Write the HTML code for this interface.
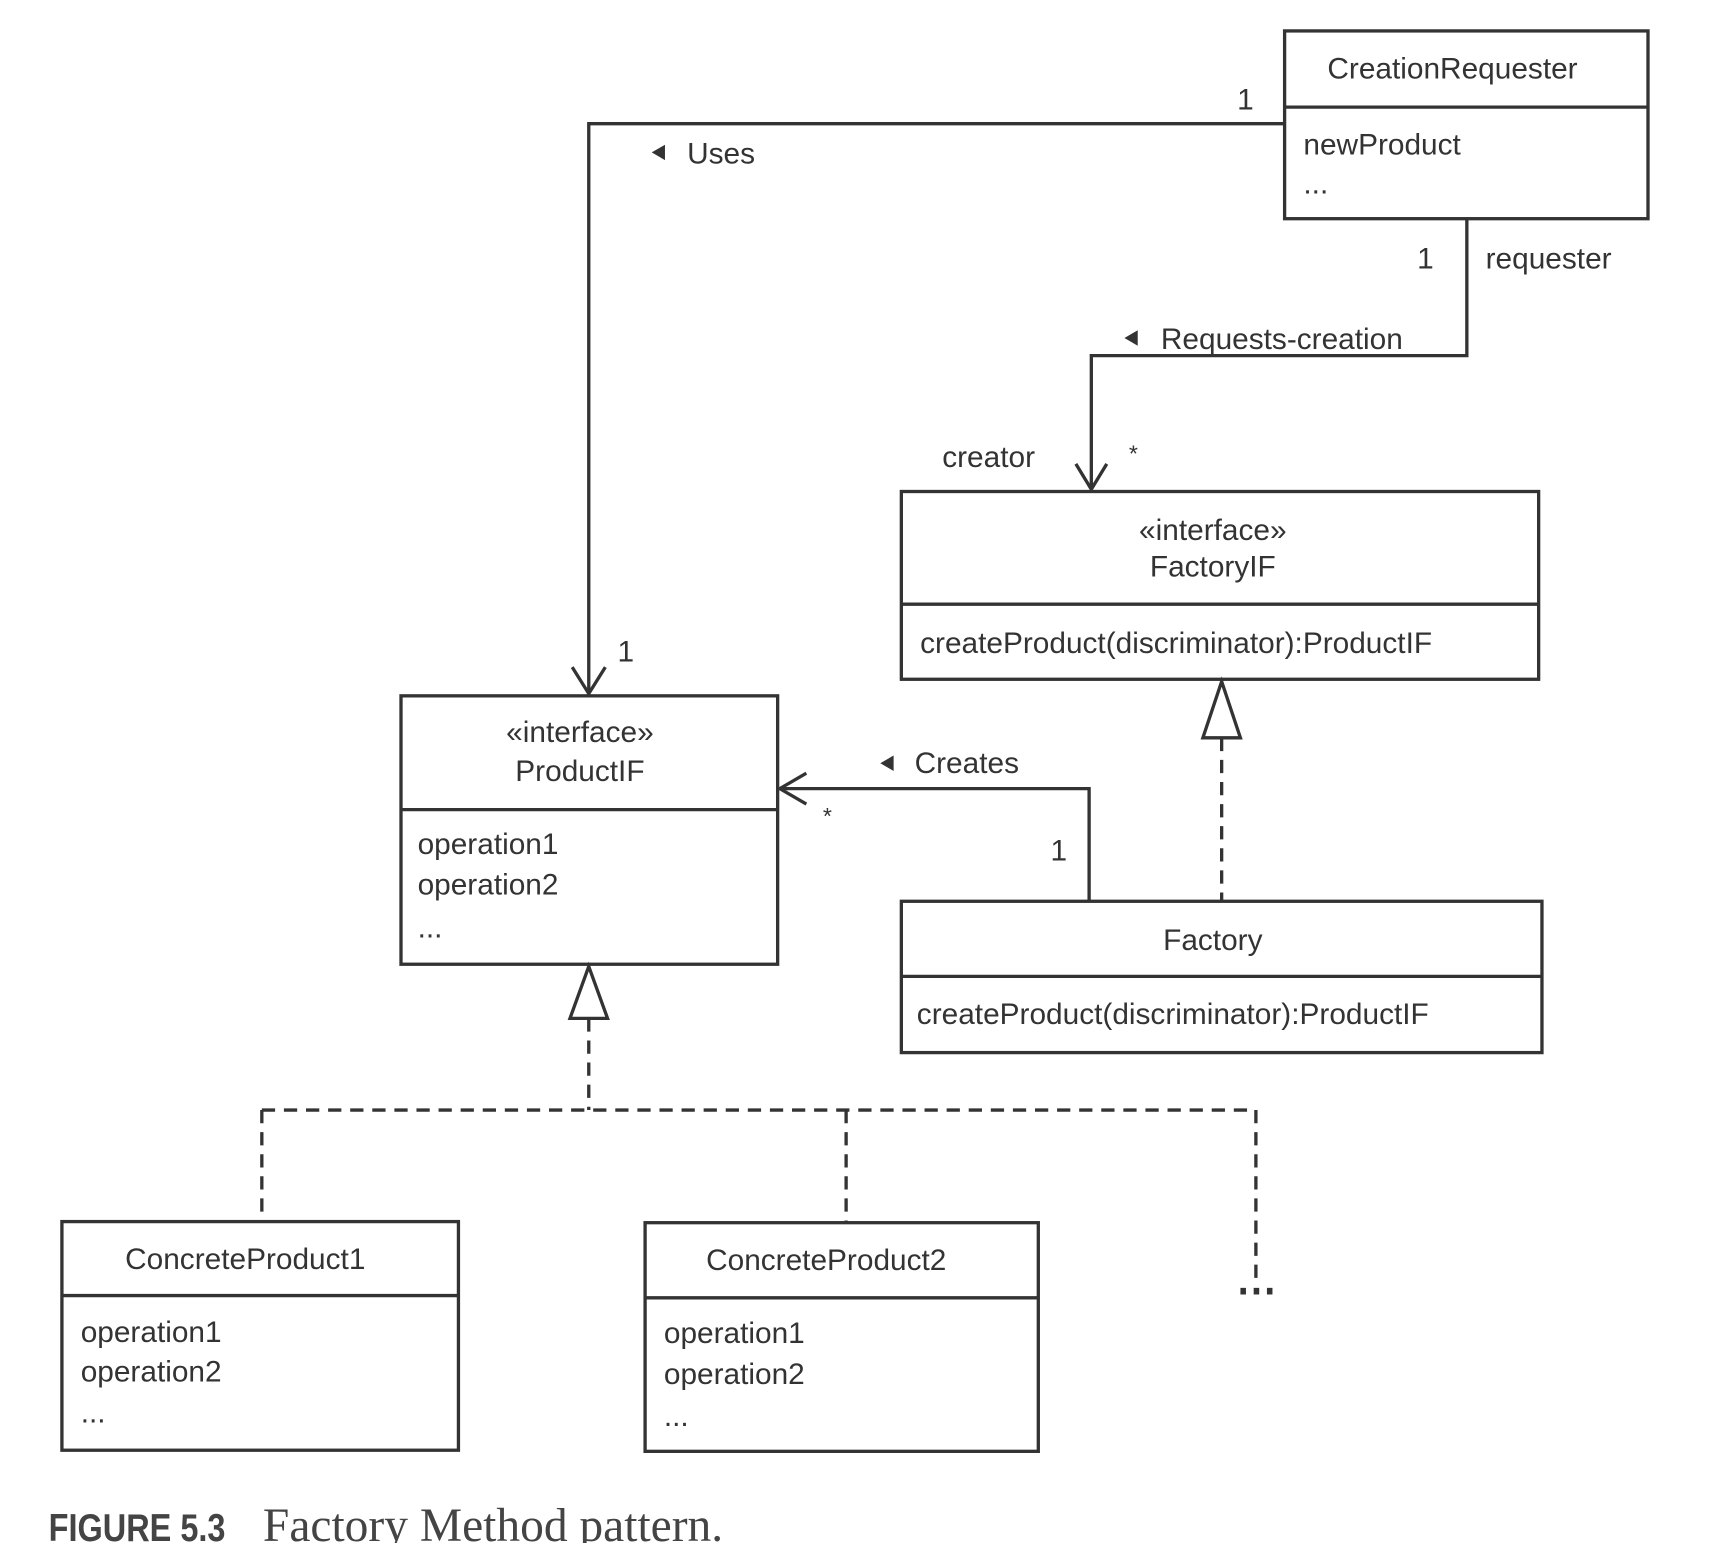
<!DOCTYPE html>
<html><head><meta charset="utf-8"><style>
html,body{margin:0;padding:0;background:#fff;}
svg{display:block;}
text{font-family:"Liberation Sans",sans-serif;font-size:27px;fill:#333;}
</style></head><body>
<svg width="1732" height="1543" viewBox="0 0 1568 1397" xmlns="http://www.w3.org/2000/svg">
<g fill="none" stroke="#333" stroke-width="3">
<rect x="1163" y="28" width="329" height="170"/><line x1="1163" y1="97" x2="1492" y2="97"/>
<rect x="816" y="445" width="577" height="170"/><line x1="816" y1="547" x2="1393" y2="547"/>
<rect x="363" y="630" width="341" height="243"/><line x1="363" y1="733" x2="704" y2="733"/>
<rect x="816" y="816" width="580" height="137"/><line x1="816" y1="884" x2="1396" y2="884"/>
<rect x="56" y="1106" width="359" height="207"/><line x1="56" y1="1173" x2="415" y2="1173"/>
<rect x="584" y="1107" width="356" height="207"/><line x1="584" y1="1175" x2="940" y2="1175"/>
<polyline points="1163,112 533,112 533,628"/>
<polyline points="518,604 533,628 548,604"/>
<polyline points="1328,198 1328,322 988,322 988,443"/>
<polyline points="974,420 988,443 1002,420"/>
<polyline points="986,816 986,714 706,714"/>
<polyline points="730,700 706,714 730,728"/>
<g stroke-dasharray="12,8">
<line x1="1106" y1="668" x2="1106" y2="816"/>
<line x1="533" y1="922" x2="533" y2="1005"/>
<line x1="237" y1="1005" x2="1137" y2="1005"/>
<line x1="237" y1="1005" x2="237" y2="1106"/>
<line x1="766" y1="1005" x2="766" y2="1107"/>
<line x1="1137" y1="1005" x2="1137" y2="1160"/>
</g>
<polygon points="1106,617 1089,668 1123,668" fill="#fff"/>
<polygon points="533,875 516,922 550,922" fill="#fff"/>
</g>
<g fill="#333"><rect x="1123" y="1166" width="5" height="6"/><rect x="1135" y="1166" width="5" height="6"/><rect x="1147" y="1166" width="5" height="6"/>
<polygon points="590,138 602,131 602,145"/><polygon points="1018,306 1030,299 1030,313"/><polygon points="797,691 809,684 809,698"/></g>
<text x="1315" y="71" text-anchor="middle">CreationRequester</text>
<text x="1180" y="140">newProduct</text>
<text x="1180" y="175">...</text>
<text x="1120" y="99">1</text>
<text x="622" y="148">Uses</text>
<text x="1283" y="243">1</text>
<text x="1345" y="243">requester</text>
<text x="1051" y="316">Requests-creation</text>
<text x="853" y="423">creator</text>
<text x="1022" y="418" style="font-size:21px">*</text>
<text x="1098" y="489" text-anchor="middle">«interface»</text>
<text x="1098" y="522" text-anchor="middle">FactoryIF</text>
<text x="833" y="591">createProduct(discriminator):ProductIF</text>
<text x="559" y="599">1</text>
<text x="525" y="672" text-anchor="middle">«interface»</text>
<text x="525" y="707" text-anchor="middle">ProductIF</text>
<text x="378" y="773">operation1</text>
<text x="378" y="810">operation2</text>
<text x="378" y="849">...</text>
<text x="828" y="700">Creates</text>
<text x="745" y="746" style="font-size:21px">*</text>
<text x="951" y="779">1</text>
<text x="1098" y="860" text-anchor="middle">Factory</text>
<text x="830" y="927">createProduct(discriminator):ProductIF</text>
<text x="222" y="1149" text-anchor="middle">ConcreteProduct1</text>
<text x="73" y="1215">operation1</text>
<text x="73" y="1251">operation2</text>
<text x="73" y="1288">...</text>
<text x="748" y="1150" text-anchor="middle">ConcreteProduct2</text>
<text x="601" y="1216">operation1</text>
<text x="601" y="1253">operation2</text>
<text x="601" y="1291">...</text>
<text x="44" y="1395" transform="translate(44 0) scale(0.84 1) translate(-44 0)" style="font-size:35px;font-weight:bold;fill:#444">FIGURE 5.3</text>
<text x="238" y="1395" style="font-family:'Liberation Serif',serif;font-size:43px;fill:#444">Factory Method pattern.</text>
</svg>
</body></html>
